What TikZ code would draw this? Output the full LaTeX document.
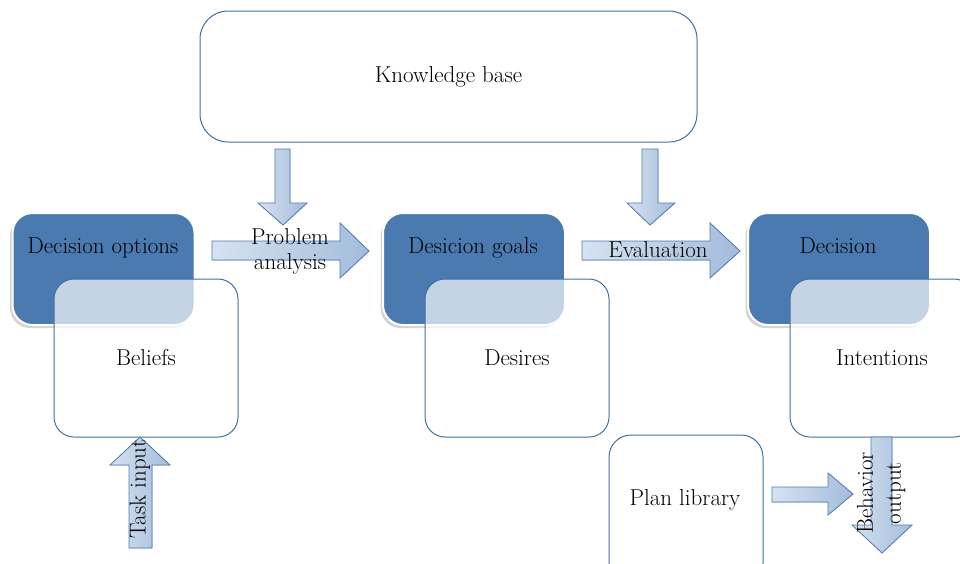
\documentclass[tikz,border=0pt]{standalone}
\usetikzlibrary{shadows}
\definecolor{darkfill}{HTML}{4A7AB0}
\definecolor{boxline}{HTML}{41709F}
\definecolor{arrline}{HTML}{4E7DB3}
\definecolor{arrlight}{HTML}{D6E2F0}
\definecolor{arrdark}{HTML}{A3BCDC}
\begin{document}
\begin{tikzpicture}[x=1pt,y=-1pt,
  every node/.style={font=\fontsize{23}{25}\selectfont, text=black, inner sep=0pt},
  darkbox/.style={rectangle, rounded corners=20pt, fill=darkfill, draw=white, line width=2pt,
     minimum width=182pt, minimum height=112pt,
     drop shadow={shadow xshift=-2.5pt, shadow yshift=-3pt, opacity=0.35}},
  lightbox/.style={rectangle, rounded corners=20pt, draw=boxline, line width=1pt,
     fill=white, fill opacity=0.68, text opacity=1,
     minimum width=184pt, minimum height=158pt},
  plainbox/.style={rectangle, rounded corners=22pt, draw=boxline, line width=1pt, fill=white},
  blockarrow/.style={draw=arrline, line width=0.8pt, left color=arrlight, right color=arrdark, line join=miter},
  txt/.style={align=center}
]
\useasboundingbox (0,0) rectangle (960,563);
\clip (0,0) rectangle (960,563);

% Knowledge base
\node[plainbox, rounded corners=28pt, minimum width=497pt, minimum height=131pt] (kb) at (448.5,76.5) {Knowledge base};

% arrows from knowledge base
\filldraw[blockarrow] (275,149) -- (290,149) -- (290,203) -- (307,203) -- (283,225) -- (258,203) -- (275,203) -- cycle;
\filldraw[blockarrow] (642,149) -- (658,149) -- (658,203) -- (675,203) -- (650,225) -- (627,203) -- (642,203) -- cycle;

% dark boxes
\node[darkbox] (opt) at (103.5,269) {};
\node (optt) at (103,248) {Decision options};
\node[darkbox] (goal) at (474,269) {};
\node (goalt) at (473,248) {Desicion goals};
\node[darkbox] (dec) at (839,269) {};
\node (dect) at (838,246) {Decision};

% light boxes
\node[lightbox] (bel) at (146,358) {Beliefs};
\node[lightbox] (des) at (517,358) {Desires};
\node[lightbox] (int) at (882,358) {Intentions};

% horizontal arrows
\filldraw[blockarrow] (212,241) -- (340,241) -- (340,223) -- (369,251) -- (340,278) -- (340,260) -- (212,260) -- cycle;
\node[txt] (pa) at (290,251) {Problem\\analysis};
\filldraw[blockarrow] (582,241) -- (710,241) -- (710,223) -- (740,251) -- (710,278) -- (710,260) -- (582,260) -- cycle;
\node (ev) at (658,250) {Evaluation};

% task input
\filldraw[blockarrow] (129,548) -- (129,465) -- (110,465) -- (140,437) -- (170,465) -- (152,465) -- (152,548) -- cycle;
\node[rotate=90] (ti) at (140,489) {Task input};

% plan library
\node[plainbox, minimum width=154pt, minimum height=150pt] (pl) at (686,510) {};
\node (plt) at (685,500) {Plan library};
\filldraw[blockarrow] (772,487) -- (828,487) -- (828,473) -- (853,494) -- (828,515) -- (828,502) -- (772,502) -- cycle;

% behavior output
\filldraw[blockarrow] (871,437) -- (892,437) -- (892,525) -- (912,525) -- (882,553) -- (852,525) -- (871,525) -- cycle;
\node[rotate=90, txt, font=\fontsize{23}{28}\selectfont] (bo) at (881,493) {Behavior\\output};
\end{tikzpicture}
\end{document}
